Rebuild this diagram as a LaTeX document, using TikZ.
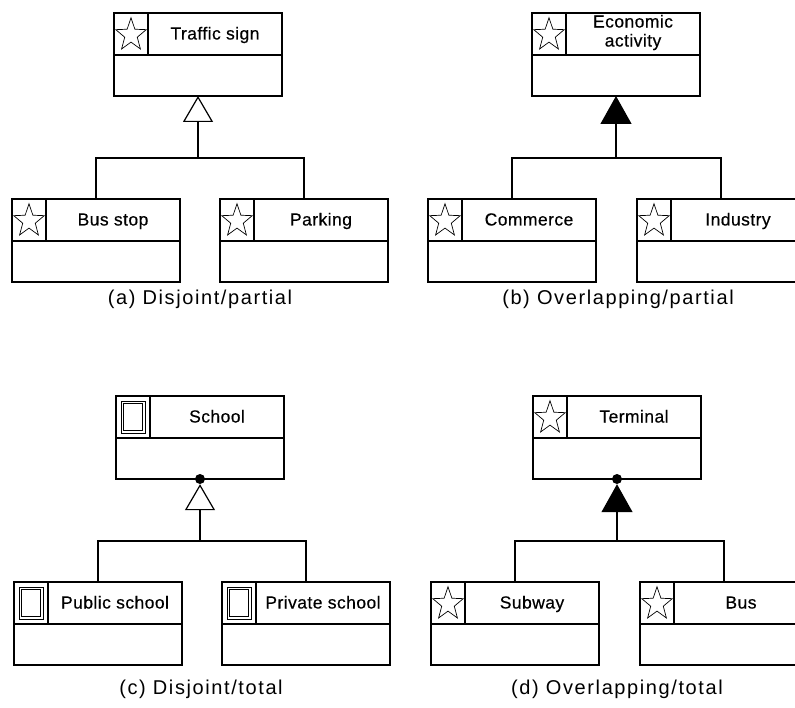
\documentclass[tikz,border=0pt]{standalone}
\usepackage{fontspec}
\setmainfont{Liberation Sans}
\newfontfamily\classfont[LetterSpace=2.5, FakeBold=0.4]{Liberation Sans}
\newfontfamily\capfont[LetterSpace=8]{Liberation Sans}
\usetikzlibrary{arrows.meta}

\tikzset{
  rule/.style={line width=1.2pt, line cap=rect},
  classrect/.style={draw, rule, minimum width=168pt, minimum height=83pt, inner sep=0pt, outer sep=0pt},
  classname/.style={font={\classfont\fontsize{17.5}{19}\selectfont}, inner sep=0pt, align=center},
  caption/.style={font={\capfont\fontsize{20}{22}\selectfont}, inner sep=0pt},
  link/.style={rule, line cap=butt},
  genopen/.style={link, -{Triangle[open, length=26pt, width=30pt]}},
  genfill/.style={link, -{Triangle[length=28pt, width=31pt]}},
  covdot/.style={circle, fill, inner sep=0pt, minimum size=10pt},
}

% five-pointed outline star centred at (#1,#2)
\newcommand\starmark[2]{%
  \draw[line width=0.7pt, line join=miter, shift={(#1,#2+1)}, yscale=1.08]
    (-90:16) \foreach \a/\r in {-54/6.6,-18/16,18/6.6,54/16,90/6.6,126/16,162/6.6,198/16,234/6.6} { -- (\a:\r) } -- cycle;}

% double framed rectangle centred at (#1,#2)
\newcommand\framemark[2]{%
  \draw[line width=0.9pt] (#1-12,#2-16) rectangle (#1+12,#2+16);
  \draw[line width=0.9pt] (#1-9.5,#2-13.5) rectangle (#1+9.5,#2+13.5);}

% class box: [label options], #2 name, #3 left, #4 top, #5 label, #6 icon macro
\newcommand\umlclass[6][anchor=base]{%
  \node[classrect, anchor=north west] (#2) at (#3,#4) {};
  \draw[rule] (#3,#4+42) -- (#3+168,#4+42);
  \draw[rule] (#3+34,#4) -- (#3+34,#4+42);
  \node[classname, #1] (#2-label) at (#3+101,#4+26.5) {#5};
  #6{#3+17}{#4+21}}

\begin{document}
\begin{tikzpicture}[x=1pt, y=-1pt]
  \useasboundingbox (0,0) rectangle (795,708);
  \fill[white] (0,0) rectangle (795,708);
  \clip (0,0) rectangle (795,708);

  % (a) disjoint / partial
  \umlclass{traffic}{114}{13}{Traffic sign}{\starmark}
  \umlclass{busstop}{12}{199}{Bus stop}{\starmark}
  \umlclass{parking}{220}{199}{Parking}{\starmark}
  \coordinate (ja) at (198,158);
  \draw[genopen] (ja) -- (traffic.south);
  \draw[link] (busstop.north) |- (ja) -| (parking.north);
  \node[caption] (capa) at (200,299) {(a) Disjoint/partial};

  % (b) overlapping / partial
  \umlclass[anchor=center, yshift=7pt]{econ}{532}{13}{Economic\\activity}{\starmark}
  \umlclass{commerce}{428}{199}{Commerce}{\starmark}
  \umlclass{industry}{637}{199}{Industry}{\starmark}
  \coordinate (jb) at (616,158);
  \draw[genfill] (jb) -- (econ.south);
  \draw[link] (commerce.north) |- (jb) -| (industry.north);
  \node[caption] (capb) at (618,299) {(b) Overlapping/partial};

  % (c) disjoint / total
  \umlclass{school}{116}{396}{School}{\framemark}
  \umlclass{public}{14}{582}{Public school}{\framemark}
  \umlclass{private}{222}{582}{Private school}{\framemark}
  \node[covdot] (dc) at (school.south) {};
  \coordinate (jc) at (200,541);
  \draw[genopen] (jc) -- (dc);
  \draw[link] (public.north) |- (jc) -| (private.north);
  \node[caption] (capc) at (201,689) {(c) Disjoint/total};

  % (d) overlapping / total
  \umlclass{terminal}{533}{396}{Terminal}{\starmark}
  \umlclass{subway}{431}{582}{Subway}{\starmark}
  \umlclass{bus}{640}{582}{Bus}{\starmark}
  \node[covdot] (dd) at (terminal.south) {};
  \coordinate (jd) at (617,541);
  \draw[genfill] (jd) -- (dd);
  \draw[link] (subway.north) |- (jd) -| (bus.north);
  \node[caption] (capd) at (617,689) {(d) Overlapping/total};
\end{tikzpicture}
\end{document}
